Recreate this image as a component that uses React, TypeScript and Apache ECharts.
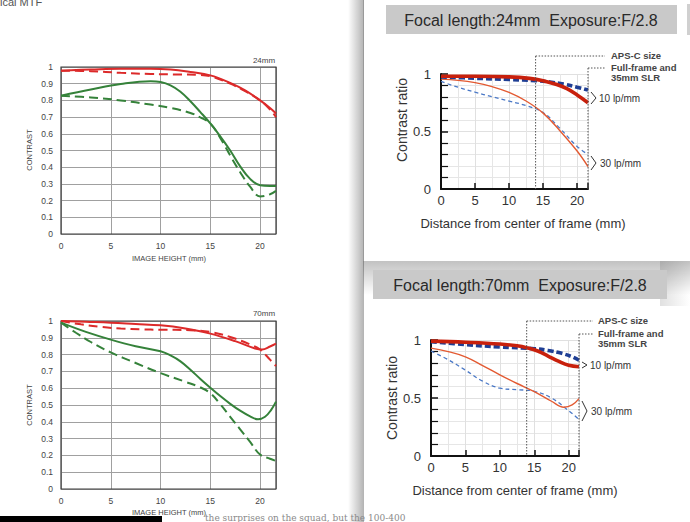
import React, { useEffect, useRef } from "react";
import * as echarts from "echarts";

// ---------- data ----------
const leftXTicks = [0, 5, 10, 15, 20];
const focal24 = "24mm";
const focal70 = "70mm";
const apsCEdge = 13.9;
const fullFrameEdge = 21.6;

// Left 24mm (contrast vs image height)
const l24RedSolid = [[0,0.978],[3,0.985],[6,0.99],[9,0.99],[11,0.985],[13,0.97],[15,0.95],[17,0.905],[18.5,0.86],[20,0.80],[21,0.755],[21.6,0.722]];
const l24RedDash = [[0,0.978],[3,0.975],[6,0.965],[9,0.958],[12,0.955],[14,0.953],[15,0.945],[17,0.9],[18.5,0.855],[20,0.8],[21,0.745],[21.6,0.70]];
const l24GreenSolid = [[0,0.828],[3,0.865],[6,0.898],[9,0.915],[10,0.91],[11,0.89],[12,0.852],[13,0.795],[14,0.73],[15,0.662],[16,0.585],[17,0.5],[18,0.405],[19,0.33],[20,0.292],[21,0.288],[21.6,0.288]];
const l24GreenDash = [[0,0.828],[3,0.818],[6,0.8],[9,0.775],[11,0.755],[13,0.725],[14,0.698],[15,0.662],[16,0.575],[17,0.47],[18,0.37],[19,0.283],[20,0.225],[21,0.238],[21.6,0.258]];

// Left 70mm
const l70RedSolid = [[0,1.0],[2.5,0.995],[5,0.99],[7.5,0.982],[10,0.974],[12.5,0.955],[15,0.925],[17.5,0.88],[19.5,0.836],[20.2,0.83],[21,0.848],[21.6,0.865]];
const l70RedDash = [[0,1.0],[2,0.98],[4,0.965],[6,0.955],[8,0.95],[10,0.948],[13,0.945],[15,0.935],[17,0.905],[19,0.86],[20,0.83],[21,0.77],[21.6,0.732]];
const l70GreenSolid = [[0,0.99],[2.5,0.935],[5,0.889],[7.5,0.85],[10,0.82],[11,0.795],[12,0.76],[13,0.71],[14,0.655],[15,0.603],[16,0.553],[17,0.507],[18,0.466],[19,0.432],[19.8,0.415],[20.5,0.43],[21.1,0.47],[21.6,0.52]];
const l70GreenDash = [[0,0.99],[1.5,0.93],[3,0.875],[5,0.813],[7.5,0.75],[10,0.69],[12.5,0.638],[14,0.605],[15,0.57],[16,0.505],[17,0.43],[18,0.355],[19,0.28],[20,0.205],[21,0.18],[21.6,0.167]];

// Right 24mm (contrast ratio vs distance)
const r24Thick10Red = [[0,0.98],[5,0.98],[10,0.975],[13,0.962],[15,0.942],[17,0.908],[18.5,0.872],[20,0.818],[21.6,0.75]];
const r24Thick10Blue = [[0,0.975],[5,0.963],[10,0.952],[14,0.942],[16,0.93],[18,0.912],[20,0.885],[21.6,0.86]];
const r24Thin30Red = [[0,0.955],[2.5,0.945],[5,0.925],[7.5,0.89],[10,0.84],[12.5,0.765],[15,0.66],[17.5,0.505],[20,0.33],[21.6,0.195]];
const r24Thin30Blue = [[0,0.935],[2.5,0.885],[5,0.842],[7.5,0.802],[10,0.765],[12.5,0.725],[15,0.665],[17.5,0.525],[20,0.37],[21.6,0.30]];

// Right 70mm
const r70Thick10Red = [[0,0.99],[5,0.98],[10,0.965],[12.5,0.95],[14,0.932],[15.5,0.905],[17,0.862],[18.5,0.818],[20,0.782],[21.5,0.77]];
const r70Thick10Blue = [[0,0.985],[5,0.96],[10,0.94],[15,0.925],[17,0.91],[19,0.885],[20.5,0.855],[21.5,0.825]];
const r70Thin30Red = [[0,0.93],[2.5,0.9],[5,0.855],[7.5,0.78],[10,0.70],[12.5,0.625],[15,0.555],[17.5,0.472],[19.3,0.42],[20.5,0.44],[21.5,0.495]];
const r70Thin30Blue = [[0,0.905],[2.5,0.83],[5,0.74],[7.5,0.645],[10,0.585],[12.5,0.572],[15,0.558],[17.5,0.5],[20,0.39],[21.5,0.315]];

const title24 = "Focal length:24mm  Exposure:F/2.8";
const title70 = "Focal length:70mm  Exposure:F/2.8";

// ---------- styles ----------
const LRED = "#dc2a2a";
const LGREEN = "#35823a";
const RRED_THICK = "#c8200c";
const RBLUE_THICK = "#1e3e94";
const RRED_THIN = "#e35a32";
const RBLUE_THIN = "#4a78c6";
const SANS = "Liberation Sans, Arial, sans-serif";

function leftX(gi: number) {
  return {
    type: "value", gridIndex: gi, min: 0, max: 21.6, interval: 5,
    axisLine: { show: false }, axisTick: { show: false },
    axisLabel: { fontSize: 8.5, color: "#444", margin: 7, fontFamily: SANS,
      formatter: (v: number) => (leftXTicks.includes(v) ? String(v) : "") },
    splitLine: { show: true, lineStyle: { color: "#a0a0a0", width: 1 } },
  };
}
function leftY(gi: number) {
  return {
    type: "value", gridIndex: gi, min: 0, max: 1, interval: 0.1,
    axisLine: { show: false }, axisTick: { show: false },
    axisLabel: { fontSize: 8.5, color: "#444", margin: 8, fontFamily: SANS,
      formatter: (v: number) => String(Math.round(v * 10) / 10) },
    splitLine: { show: true, lineStyle: { color: "#a0a0a0", width: 1 } },
  };
}
function rightX(gi: number, max: number) {
  return {
    type: "value", gridIndex: gi, min: 0, max, interval: 5,
    axisLine: { show: true, onZero: false, lineStyle: { color: "#111", width: 2 } },
    axisTick: { show: true, inside: true, length: 6, lineStyle: { color: "#111", width: 1.5 } },
    minorTick: { show: false, splitNumber: 2 },
    axisLabel: { fontSize: 13, color: "#333", margin: 5, fontFamily: SANS,
      formatter: (v: number) => (v % 5 === 0 && v <= 20 ? String(v) : "") },
    splitLine: { show: true, lineStyle: { color: "#e0e0e0", width: 1 } },
    minorSplitLine: { show: true, lineStyle: { color: "#e6e6e6", width: 1 } },
  };
}
function rightY(gi: number) {
  return {
    type: "value", gridIndex: gi, min: 0, max: 1, interval: 0.5,
    axisLine: { show: true, onZero: false, lineStyle: { color: "#111", width: 2 } },
    axisTick: { show: true, inside: true, length: 7, lineStyle: { color: "#111", width: 1.5 } },
    minorTick: { show: true, splitNumber: 5, length: 7, lineStyle: { color: "#111", width: 1.2 } },
    axisLabel: { fontSize: 13, color: "#333", margin: 10, fontFamily: SANS,
      formatter: (v: number) => (v === 0 ? "0" : v === 1 ? "1" : "0.5") },
    splitLine: { show: true, lineStyle: { color: "#e0e0e0", width: 1 } },
    minorSplitLine: { show: true, lineStyle: { color: "#e6e6e6", width: 1 } },
  };
}
function line(gi: number, data: number[][], color: string, width: number, dash?: number[]) {
  return {
    type: "line", xAxisIndex: gi, yAxisIndex: gi, data, showSymbol: false, symbol: "none",
    smooth: 0.4, silent: true,
    lineStyle: { color, width, type: dash ? dash : "solid", cap: "butt" },
  };
}

export default function App() {
  const ref = useRef<HTMLDivElement>(null);
  useEffect(() => {
    document.body.style.margin = "0";
    const chart = echarts.init(ref.current!, null, { renderer: "svg" });
    chart.setOption({
      animation: false,
      backgroundColor: "transparent",
      grid: [
        { left: 61, top: 67, width: 215, height: 167, show: true, borderColor: "#3c3c3c", borderWidth: 1.2, backgroundColor: "transparent", z: 1 },
        { left: 61, top: 321, width: 215, height: 168, show: true, borderColor: "#3c3c3c", borderWidth: 1.2, backgroundColor: "transparent", z: 1 },
        { left: 441, top: 74, width: 147, height: 115, show: false },
        { left: 431, top: 340, width: 148, height: 116, show: false },
      ],
      xAxis: [leftX(0), leftX(1), rightX(2, 21.6), rightX(3, 21.5)],
      yAxis: [leftY(0), leftY(1), rightY(2), rightY(3)],
      series: [
        line(0, l24RedSolid, LRED, 2),
        line(0, l24RedDash, LRED, 2, [9, 5]),
        line(0, l24GreenSolid, LGREEN, 2),
        line(0, l24GreenDash, LGREEN, 2, [9, 5]),
        line(1, l70RedSolid, LRED, 2),
        line(1, l70RedDash, LRED, 2, [9, 5]),
        line(1, l70GreenSolid, LGREEN, 2),
        line(1, l70GreenDash, LGREEN, 2, [9, 5]),
        line(2, r24Thin30Blue, RBLUE_THIN, 1.3, [4, 3]),
        line(2, r24Thin30Red, RRED_THIN, 1.4),
        line(2, r24Thick10Blue, RBLUE_THICK, 3.6, [6, 3]),
        line(2, r24Thick10Red, RRED_THICK, 3.6),
        line(3, r70Thin30Blue, RBLUE_THIN, 1.3, [4, 3]),
        line(3, r70Thin30Red, RRED_THIN, 1.4),
        line(3, r70Thick10Blue, RBLUE_THICK, 3.6, [6, 3]),
        line(3, r70Thick10Red, RRED_THICK, 3.6),
      ],
    });

    const px = (gi: number, x: number, y: number) =>
      chart.convertToPixel({ gridIndex: gi } as any, [x, y]) as number[];

    const dotted = { stroke: "#555", lineWidth: 1, lineDash: [1.5, 1.5] };
    const small = (x: number, y: number, text: string) => ({
      type: "text", x, y, z: 20,
      style: { text, fontSize: 9.5, fontWeight: "bold", fill: "#444", fontFamily: SANS, textVerticalAlign: "middle" },
    });

    const annot = (gi: number, apsTop: number, ffTop: number, labelX: number, lineEnd: number,
      b10: number[], b30: number[], small10: boolean) => {
      const aps = px(gi, apsCEdge, 0);
      const ff = px(gi, gi === 2 ? fullFrameEdge : 21.5, 0);
      const els: any[] = [
        { type: "line", z: 15, shape: { x1: aps[0], y1: apsTop, x2: aps[0], y2: aps[1] }, style: dotted },
        { type: "line", z: 15, shape: { x1: aps[0], y1: apsTop, x2: lineEnd, y2: apsTop }, style: dotted },
        { type: "line", z: 15, shape: { x1: ff[0], y1: ffTop, x2: ff[0], y2: ff[1] }, style: dotted },
        { type: "line", z: 15, shape: { x1: ff[0], y1: ffTop, x2: lineEnd, y2: ffTop }, style: dotted },
        small(labelX, apsTop - 1, "APS-C size"),
        small(labelX, ffTop - 1, "Full-frame and"),
        small(labelX, ffTop + 9, "35mm SLR"),
      ];
      const bx = ff[0] + 3;
      const h10 = small10 ? 3 : 6;
      els.push({ type: "polyline", z: 15, shape: { points: [[bx, b10[0] - h10], [bx + 5, b10[0]], [bx, b10[0] + h10]] }, style: { stroke: "#333", lineWidth: 1, fill: "none" } });
      els.push({ type: "text", z: 20, x: bx + 8, y: b10[0], style: { text: "10 lp/mm", fontSize: 10, fill: "#333", fontFamily: SANS, textVerticalAlign: "middle" } });
      els.push({ type: "polyline", z: 15, shape: { points: [[bx, b30[0] - b30[1]], [bx + 5, b30[0]], [bx, b30[0] + b30[1]]] }, style: { stroke: "#333", lineWidth: 1, fill: "none" } });
      els.push({ type: "text", z: 20, x: bx + 9, y: b30[0], style: { text: "30 lp/mm", fontSize: 10, fill: "#333", fontFamily: SANS, textVerticalAlign: "middle" } });
      return els;
    };

    const vText = (x: number, y: number, text: string, size: number, color: string) => ({
      type: "text", x, y, rotation: Math.PI / 2, z: 20,
      style: { text, fontSize: size, fill: color, fontFamily: SANS, textAlign: "center", textVerticalAlign: "middle" },
    });
    const hText = (x: number, y: number, text: string, size: number, color: string) => ({
      type: "text", x, y, z: 20,
      style: { text, fontSize: size, fill: color, fontFamily: SANS, textAlign: "center", textVerticalAlign: "middle" },
    });

    const graphic: any[] = [
      { type: "rect", z: -10, shape: { x: 348, y: 0, width: 16, height: 522 },
        style: { fill: new echarts.graphic.LinearGradient(0, 0, 1, 0, [
          { offset: 0, color: "rgba(0,0,0,0)" }, { offset: 1, color: "rgba(0,0,0,0.3)" }]) } },
      { type: "rect", z: -9, shape: { x: 363, y: 0, width: 327, height: 261 }, style: { fill: "#fff" } },
      { type: "line", z: -8, shape: { x1: 363.5, y1: 0, x2: 363.5, y2: 261 }, style: { stroke: "#9a9a9a", lineWidth: 1 } },
      { type: "rect", z: -9, shape: { x: 365, y: 261, width: 325, height: 261 }, style: { fill: "#fff" } },
      { type: "rect", z: -8, shape: { x: 363, y: 261, width: 327, height: 34 },
        style: { fill: new echarts.graphic.LinearGradient(0, 0, 0, 1, [
          { offset: 0, color: "rgba(0,0,0,0.24)" }, { offset: 1, color: "rgba(0,0,0,0)" }]) } },
      { type: "rect", z: -8, shape: { x: 660, y: 261, width: 30, height: 45 },
        style: { fill: new echarts.graphic.LinearGradient(0, 0, 1, 0, [
          { offset: 0, color: "rgba(0,0,0,0.12)" }, { offset: 1, color: "rgba(0,0,0,0)" }]) } },
      { type: "rect", z: -7, shape: { x: 687, y: 4, width: 3, height: 31 }, style: { fill: "#d0d0d0" } },
      { type: "rect", z: -5, shape: { x: 386, y: 5, width: 291, height: 29 }, style: { fill: "#c9c9c9" } },
      { type: "rect", z: -5, shape: { x: 373, y: 270, width: 294, height: 29 }, style: { fill: "#c9c9c9" } },
      hText(531, 20, title24, 16, "#2a2a2a"),
      hText(520, 285, title70, 16, "#2a2a2a"),
      vText(402, 120, "Contrast ratio", 14, "#333"),
      vText(392, 398, "Contrast ratio", 14, "#333"),
      hText(523, 223, "Distance from center of frame (mm)", 13, "#333"),
      hText(515, 490, "Distance from center of frame (mm)", 13, "#333"),
      vText(29, 150, "CONTRAST", 7.5, "#444"),
      vText(29, 405, "CONTRAST", 7.5, "#444"),
      hText(169, 258, "IMAGE HEIGHT (mm)", 7.5, "#444"),
      hText(169, 512, "IMAGE HEIGHT (mm)", 7.5, "#444"),
      hText(264, 60, focal24, 8, "#444"),
      hText(264, 313, focal70, 8, "#444"),
      { type: "text", z: 20, x: 0, y: -4, style: { text: "ical MTF", fontSize: 11, fill: "#555", fontFamily: SANS } },
      { type: "rect", z: 5, shape: { x: 0, y: 516, width: 162, height: 6 }, style: { fill: "#000" } },
      { type: "text", z: 6, x: 205, y: 513, style: { text: "the surprises on the squad, but the 100-400", fontSize: 9, fill: "#8a8a8a", fontFamily: "DejaVu Serif, serif" } },
      ...annot(2, 56, 68, 611, 605, [98], [163, 7], false),
      ...annot(3, 321, 334, 598, 593, [365], [411, 10], true),
    ];
    chart.setOption({ graphic });
    return () => chart.dispose();
  }, []);
  return <div ref={ref} style={{ position: "absolute", left: 0, top: 0, width: 690, height: 522, background: "#fff" }} />;
}
